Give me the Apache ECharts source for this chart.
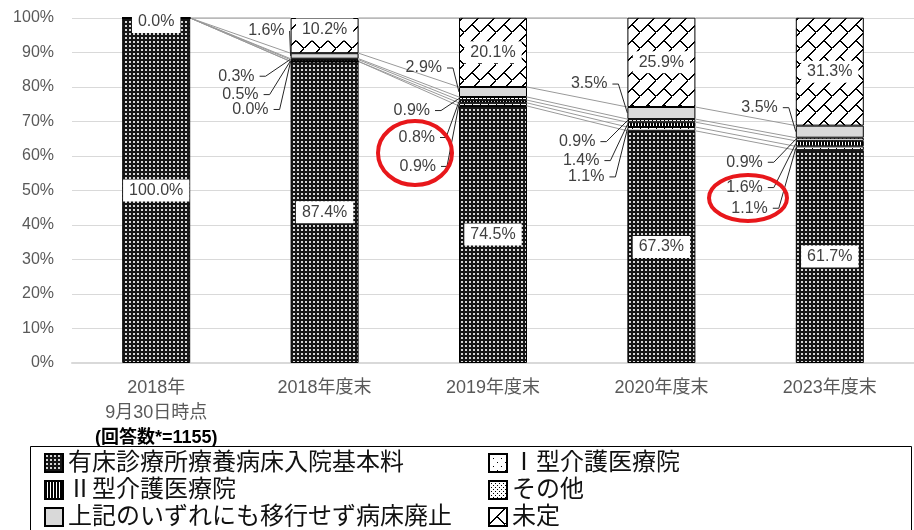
<!DOCTYPE html>
<html>
<head>
<meta charset="UTF-8">
<title></title>
<script src="https://cdn.jsdelivr.net/npm/echarts@6/dist/echarts.min.js"></script>
<style>
  html, body { margin: 0; padding: 0; background: #fff; }
  #chart { width: 914px; height: 530px; }
</style>
</head>
<body>
<div id="chart"></div>
<script>
// categories and values
var categories = ['2018年\n9月30日時点', '2018年度末', '2019年度末', '2020年度末', '2023年度末'];
var countNote = '(回答数*=1155)';
var seriesNames = ['有床診療所療養病床入院基本料', 'Ⅰ型介護医療院', 'Ⅱ型介護医療院', 'その他', '上記のいずれにも移行せず病床廃止', '未定'];
var clinicBeds = [100.0, 87.4, 74.5, 67.3, 61.7];
var typeOne    = [0, 0.0, 0.9, 1.1, 1.1];
var typeTwo    = [0, 0.5, 0.8, 1.4, 1.6];
var otherUse   = [0, 0.3, 0.9, 0.9, 0.9];
var closedBeds = [0, 1.6, 2.9, 3.5, 3.5];
var undecided  = [0.0, 10.2, 20.1, 25.9, 31.3];

// hand placed call-out labels for the thin segments (px, relative to bar left edge / segment middle)
// rows: Ⅰ型, Ⅱ型, その他, 病床廃止 ; columns: category 1..4
var leaderDx = [
  [-22, -23, -23, -28],
  [-32, -24, -28, -33],
  [-36, -29, -32, -33],
  [-6, -17, -20, -18]
];
var leaderDy = [
  [48, 62, 48, 60],
  [34, 36, 36, 44],
  [17, 12, 21, 23],
  [-25, -24, -29, -24]
];

var BAR_W = 68;
var FONT = '"Liberation Sans", "Noto Sans CJK JP", sans-serif';
var allSeries = [clinicBeds, typeOne, typeTwo, otherUse, closedBeds, undecided];

function tile(w, h, bg, paint) {
  var c = document.createElement('canvas');
  c.width = w; c.height = h;
  var ctx = c.getContext('2d');
  ctx.fillStyle = bg;
  ctx.fillRect(0, 0, w, h);
  ctx.fillStyle = '#000';
  paint(ctx);
  return { image: c, repeat: 'repeat' };
}

var fills = [
  tile(4, 4, '#161616', function (ctx) { ctx.fillStyle = '#d6d6d6'; ctx.fillRect(1, 1, 2, 2); }),
  tile(8, 8, '#fff', function (ctx) { ctx.fillRect(0, 0, 1, 1); ctx.fillRect(4, 4, 1, 1); }),
  tile(3, 3, '#fff', function (ctx) { ctx.fillRect(0, 0, 2, 3); }),
  tile(4, 4, '#fff', function (ctx) { ctx.fillRect(0, 0, 1, 1); ctx.fillRect(2, 2, 1, 1); }),
  '#d9d9d9',
  tile(16, 16, '#fff', function (ctx) {
    for (var i = 0; i < 16; i++) ctx.fillRect(i, 15 - i, 2, 1);
    for (var j = 0; j < 8; j++) ctx.fillRect(7 + j, 8 + j, 2, 1);
  })
];

function cumulative(k, i) {
  var s = 0;
  for (var j = 0; j <= k; j++) s += allSeries[j][i];
  return Math.min(s, 100);
}

var labelBox = {
  show: true,
  position: 'inside',
  backgroundColor: '#fff',
  padding: [3, 6],
  color: '#404040',
  fontSize: 16,
  fontFamily: FONT,
  formatter: function (p) { return p.value.toFixed(1) + '%'; }
};

var barSeries = seriesNames.map(function (name, k) {
  var s = {
    name: name,
    type: 'bar',
    stack: 'total',
    barWidth: BAR_W,
    data: allSeries[k],
    itemStyle: { color: fills[k], borderColor: '#000', borderWidth: 1 },
    label: { show: false },
    emphasis: { disabled: true },
    z: 3
  };
  if (k === 0) s.label = labelBox;
  if (k === 5) {
    s.label = labelBox;
    s.data = undecided.map(function (v, i) {
      if (i === 0) return { value: v, label: { offset: [0, 4] } };
      if (i === 1) return { value: v, label: { offset: [0, -6] } };
      return v;
    });
  }
  return s;
});

// Excel style series lines between neighbouring bars
var linkData = [];
for (var i = 0; i < categories.length - 1; i++) {
  for (var k = 0; k < allSeries.length; k++) linkData.push([i, k]);
}
var linkSeries = {
  type: 'custom',
  silent: true,
  z: 2,
  data: linkData,
  renderItem: function (params, api) {
    var i = api.value(0), k = api.value(1);
    var a = api.coord([i, cumulative(k, i)]);
    var b = api.coord([i + 1, cumulative(k, i + 1)]);
    return {
      type: 'line',
      shape: { x1: a[0] + BAR_W / 2, y1: a[1], x2: b[0] - BAR_W / 2, y2: b[1] },
      style: { stroke: '#999', lineWidth: 1 }
    };
  }
};

// call-out labels with leader lines for the thin segments
var calloutData = [];
for (var s = 0; s < 4; s++) {
  for (var c = 1; c < categories.length; c++) calloutData.push([c, s]);
}
var calloutSeries = {
  type: 'custom',
  silent: true,
  z: 6,
  data: calloutData,
  renderItem: function (params, api) {
    var c = api.value(0), s = api.value(1);
    var k = s + 1;
    var v = allSeries[k][c];
    var mid = cumulative(k, c) - v / 2;
    var pt = api.coord([c, mid]);
    var left = pt[0] - BAR_W / 2;
    var tx = left + leaderDx[s][c - 1];
    var ty = pt[1] + leaderDy[s][c - 1];
    var x0 = tx + 5;
    var x1 = Math.min(tx + 11, left - 2);
    if (x1 < x0) x1 = x0;
    return {
      type: 'group',
      children: [
        {
          type: 'polyline',
          shape: { points: [[x0, ty], [x1, ty], [left, pt[1]]] },
          style: { stroke: '#262626', lineWidth: 1, fill: null }
        },
        {
          type: 'text',
          style: {
            x: tx, y: ty,
            text: v.toFixed(1) + '%',
            align: 'right', verticalAlign: 'middle',
            fill: '#404040', fontSize: 16, fontFamily: FONT
          }
        }
      ]
    };
  }
};

var chart = echarts.init(document.getElementById('chart'));
var option = {
  animation: false,
  textStyle: { fontFamily: FONT },
  grid: { left: 72, right: 0, top: 18, bottom: 167, containLabel: false },
  legend: {
    left: 44,
    top: 451,
    width: 800,
    padding: 0,
    itemWidth: 18,
    itemHeight: 18,
    itemGap: 3,
    selectedMode: false,
    icon: 'rect',
    textStyle: { fontSize: 24, lineHeight: 24, color: '#111', fontFamily: FONT },
    data: seriesNames.map(function (n, i) {
      return { name: n, textStyle: { width: i % 2 === 0 ? 417 : 300 } };
    }),
    z: 6
  },
  xAxis: {
    type: 'category',
    data: categories,
    axisLine: { lineStyle: { color: '#d9d9d9', width: 2 } },
    axisTick: { show: false },
    axisLabel: {
      margin: 13,
      interval: 0,
      formatter: function (v, i) {
        var lines = v.split('\n').map(function (t) { return '{a|' + t + '}'; });
        if (i === 0) lines.push('{b|' + countNote + '}');
        return lines.join('\n');
      },
      rich: {
        a: { fontSize: 18, color: '#595959', lineHeight: 25, fontFamily: FONT },
        b: { fontSize: 18, color: '#000', fontWeight: 'bold', lineHeight: 25, fontFamily: FONT }
      }
    }
  },
  yAxis: {
    type: 'value',
    min: 0,
    max: 100,
    interval: 10,
    axisLine: { show: false },
    axisTick: { show: false },
    axisLabel: { formatter: '{value}%', color: '#595959', fontSize: 16, margin: 18 },
    splitLine: { lineStyle: { color: '#d9d9d9', width: 1 } }
  },
  graphic: [
    {
      type: 'rect', z: 5,
      shape: { x: 30.5, y: 446.5, width: 881, height: 100 },
      style: { fill: '#fff', stroke: '#000', lineWidth: 1 }
    },
    {
      type: 'ellipse', z: 10,
      shape: { cx: 415, cy: 153, rx: 37, ry: 32 },
      style: { fill: null, stroke: '#e8171b', lineWidth: 4 }
    },
    {
      type: 'ellipse', z: 10,
      shape: { cx: 748, cy: 198, rx: 39, ry: 23 },
      style: { fill: null, stroke: '#e8171b', lineWidth: 4 }
    }
  ],
  series: barSeries.concat([linkSeries, calloutSeries])
};
chart.setOption(option);
window.onresize = chart.resize;
</script>
</body>
</html>
